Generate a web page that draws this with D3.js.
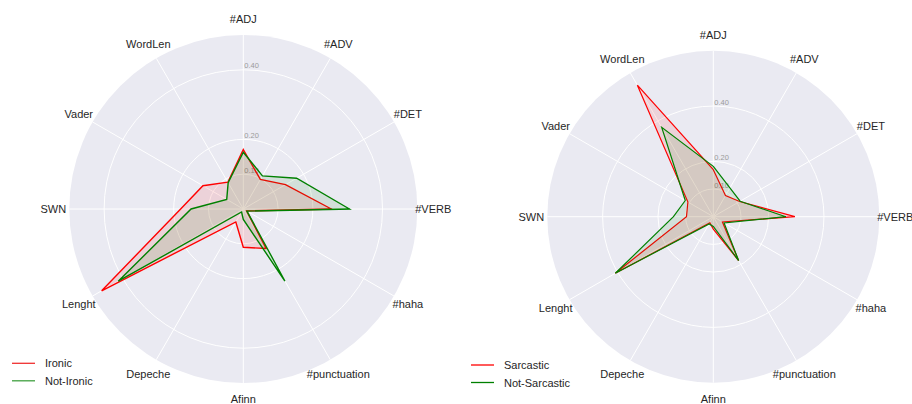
<!DOCTYPE html>
<html>
<head>
<meta charset="utf-8">
<script src="https://cdn.jsdelivr.net/npm/d3@7"></script>
<style>
  body { margin: 0; background: #fff; }
  text { font-family: "Liberation Sans", Arial, sans-serif; }
</style>
</head>
<body>
<div id="chart"></div>
<script>
// categories, clockwise from the top
var categories = ["#ADJ", "#ADV", "#DET", "#VERB", "#haha", "#punctuation",
  "Afinn", "Depeche", "Lenght", "SWN", "Vader", "WordLen"];

var ironic       = [0.171, 0.098, 0.140, 0.253, 0.011, 0.131, 0.110, 0.043, 0.470, 0.180, 0.134, 0.089];
var notIronic    = [0.163, 0.110, 0.177, 0.305, 0.012, 0.239, 0.030, 0.010, 0.415, 0.150, 0.055, 0.087];
var sarcastic    = [0.170, 0.088, 0.110, 0.295, 0.038, 0.183, 0.045, 0.025, 0.409, 0.097, 0.106, 0.549];
var notSarcastic = [0.182, 0.120, 0.112, 0.262, 0.045, 0.183, 0.035, 0.030, 0.409, 0.144, 0.117, 0.373];

var tickValues = [0.1, 0.2, 0.4];
var tickLabels = ["0.10", "0.20", "0.40"];

var svgWidth = 912;
var svgHeight = 404;

var svg = d3.select("#chart")
  .append("svg")
  .attr("width", svgWidth)
  .attr("height", svgHeight);

function drawRadar(opt) {
  var g = svg.append("g")
    .attr("transform", `translate(${opt.cx}, ${opt.cy})`);

  var rScale = d3.scaleLinear()
    .domain([0, opt.rMax])
    .range([0, opt.radius]);

  var aScale = d3.scaleLinear()
    .domain([0, categories.length])
    .range([0, 2 * Math.PI]);

  // background disc
  g.append("circle")
    .attr("r", opt.radius)
    .attr("fill", "#EAEAF2");

  // grid circles
  g.selectAll(".ring")
    .data(tickValues)
    .enter()
    .append("circle")
    .attr("r", d => rScale(d))
    .attr("fill", "none")
    .attr("stroke", "#fff")
    .attr("stroke-width", 1);

  // spokes
  g.selectAll(".spoke")
    .data(categories)
    .enter()
    .append("line")
    .attr("x1", 0)
    .attr("y1", 0)
    .attr("x2", (d, i) => opt.radius * Math.sin(aScale(i)))
    .attr("y2", (d, i) => -opt.radius * Math.cos(aScale(i)))
    .attr("stroke", "#fff")
    .attr("stroke-width", 1);

  // radial tick labels
  g.selectAll(".rlabel")
    .data(tickValues)
    .enter()
    .append("text")
    .attr("x", 1)
    .attr("y", d => -rScale(d) - 4)
    .attr("dominant-baseline", "central")
    .style("font-size", "7.5px")
    .style("fill", "#9a9a9a")
    .text((d, i) => tickLabels[i]);

  // category labels
  var labelR = opt.radius + 16;
  g.selectAll(".clabel")
    .data(categories)
    .enter()
    .append("text")
    .attr("x", (d, i) => labelR * Math.sin(aScale(i)))
    .attr("y", (d, i) => -labelR * Math.cos(aScale(i)))
    .attr("text-anchor", "middle")
    .attr("dominant-baseline", "central")
    .style("font-size", "11px")
    .style("fill", "#262626")
    .text(d => d);

  var radial = d3.lineRadial()
    .angle((d, i) => aScale(i))
    .radius(d => rScale(d))
    .curve(d3.curveLinearClosed);

  opt.series.forEach(function (s) {
    g.append("path")
      .attr("d", radial(s.values))
      .attr("fill", s.color)
      .attr("fill-opacity", 0.1)
      .attr("stroke", s.color)
      .attr("stroke-width", opt.lineWidth)
      .attr("stroke-linejoin", "miter");
  });

  // legend
  var legend = svg.append("g")
    .attr("transform", `translate(${opt.legendX}, ${opt.legendY})`);

  opt.series.forEach(function (s, i) {
    legend.append("line")
      .attr("x1", 0)
      .attr("x2", 23)
      .attr("y1", i * 17.5)
      .attr("y2", i * 17.5)
      .attr("stroke", s.legendColor || s.color)
      .attr("stroke-width", 1.3);
    legend.append("text")
      .attr("x", 33)
      .attr("y", i * 17.5)
      .attr("dominant-baseline", "central")
      .style("font-size", "11px")
      .style("fill", "#262626")
      .text(s.name);
  });
}

drawRadar({
  cx: 243.3, cy: 209, radius: 174, rMax: 0.5, lineWidth: 1.4,
  legendX: 12, legendY: 363.3,
  series: [
    { name: "Ironic", values: ironic, color: "red", legendColor: "#f03030" },
    { name: "Not-Ironic", values: notIronic, color: "green", legendColor: "#40a040" }
  ]
});

drawRadar({
  cx: 713.3, cy: 216.7, radius: 166, rMax: 0.6, lineWidth: 1.2,
  legendX: 471, legendY: 365,
  series: [
    { name: "Sarcastic", values: sarcastic, color: "red" },
    { name: "Not-Sarcastic", values: notSarcastic, color: "green" }
  ]
});
</script>
</body>
</html>
